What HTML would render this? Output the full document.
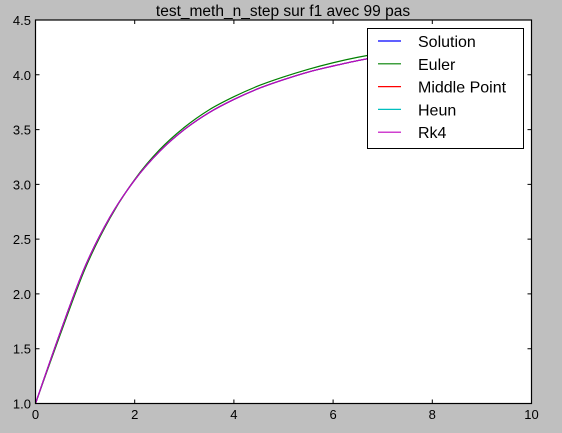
<!DOCTYPE html>
<html><head><meta charset="utf-8"><style>
html,body{margin:0;padding:0;background:#bfbfbf;}
svg{display:block;font-family:"Liberation Sans","DejaVu Sans",sans-serif;}
</style></head><body>
<svg id="chart" width="562" height="433">
<rect x="0" y="0" width="562" height="433" fill="#bfbfbf"/>
<rect x="35.5" y="20" width="496" height="383.5" fill="#fff"/>
<g id="series"></g>
<rect x="35.5" y="20" width="496" height="383.5" fill="none" stroke="#000" stroke-width="1.2"/>
<g id="ticks"></g>
<text x="283" y="16" text-anchor="middle" font-size="15.5">test_meth_n_step sur f1 avec 99 pas</text>
<g>
<rect x="367.5" y="28.5" width="156" height="120" fill="#fff" stroke="#000" stroke-width="1"/>
<g id="legend-items"></g>
</g>
</svg>
<script>
const xs=[0,0.5,1,1.5,2,2.5,3,3.5,4,4.5,5,5.5,6,6.5,7,7.5,8,8.5,9,9.5];
const solution=[1.0,1.65,2.25,2.70,3.04,3.30,3.50,3.655,3.775,3.875,3.955,4.025,4.08,4.13,4.17,4.20,4.225,4.245,4.26,4.275];
const euler=[1.0,1.63,2.23,2.69,3.045,3.315,3.52,3.68,3.80,3.90,3.98,4.05,4.11,4.16,4.20,4.23,4.255,4.275,4.29,4.305];
const middle=[1.0,1.65,2.25,2.70,3.04,3.30,3.50,3.655,3.775,3.875,3.955,4.025,4.08,4.13,4.17,4.20,4.225,4.245,4.26,4.275];
const heun=[1.0,1.65,2.25,2.70,3.04,3.30,3.50,3.655,3.775,3.875,3.955,4.025,4.08,4.13,4.17,4.20,4.225,4.245,4.26,4.275];
const rk4=[1.0,1.65,2.25,2.70,3.04,3.30,3.50,3.655,3.775,3.875,3.955,4.025,4.08,4.13,4.17,4.20,4.225,4.245,4.26,4.275];
const xTicks=[0,2,4,6,8,10];
const yTicks=["1.0","1.5","2.0","2.5","3.0","3.5","4.0","4.5"];
const seriesNames=["Solution","Euler","Middle Point","Heun","Rk4"];
const seriesColors=["#0000ff","#008000","#ff0000","#00bfbf","#bf00bf"];
const X0=35.5,X1=531.5,Y0=403.5,Y1=20;
function sx(v){return X0+(v-0)/(10-0)*(X1-X0);}
function sy(v){return Y0-(v-1)/(4.5-1)*(Y0-Y1);}
const NS="http://www.w3.org/2000/svg";
function pathFor(ys){
  const p=xs.map((x,i)=>[sx(x),sy(ys[i])]);
  let d="M"+p[0][0]+","+p[0][1];
  for(let i=0;i<p.length-1;i++){
    const a=p[Math.max(i-1,0)],b=p[i],c=p[i+1],e=p[Math.min(i+2,p.length-1)];
    const c1=[b[0]+(c[0]-a[0])/6,b[1]+(c[1]-a[1])/6];
    const c2=[c[0]-(e[0]-b[0])/6,c[1]-(e[1]-b[1])/6];
    d+=" C"+c1[0]+","+c1[1]+" "+c2[0]+","+c2[1]+" "+c[0]+","+c[1];
  }
  return d;
}
const all=[solution,euler,middle,heun,rk4];
const sg=document.getElementById("series");
all.forEach((ys,i)=>{
  const p=document.createElementNS(NS,"path");
  p.setAttribute("d",pathFor(ys));
  p.setAttribute("fill","none");
  p.setAttribute("stroke",seriesColors[i]);
  p.setAttribute("stroke-width","1.2");
  
  
  sg.appendChild(p);
});
const tg=document.getElementById("ticks");
xTicks.forEach(v=>{
  const x=sx(v);
  const l=document.createElementNS(NS,"path");
  l.setAttribute("d","M"+x+","+Y0+" v-4 M"+x+","+Y1+" v4");
  l.setAttribute("stroke","#000");
  
  
  tg.appendChild(l);
  const t=document.createElementNS(NS,"text");
  t.setAttribute("x",x);t.setAttribute("y",419);
  t.setAttribute("text-anchor","middle");t.setAttribute("font-size","13");
  t.textContent=v;
  
  
  tg.appendChild(t);
});
yTicks.forEach(s=>{
  const y=sy(parseFloat(s));
  const l=document.createElementNS(NS,"path");
  l.setAttribute("d","M"+X0+","+y+" h4 M"+X1+","+y+" h-4");
  l.setAttribute("stroke","#000");
  
  
  tg.appendChild(l);
  const t=document.createElementNS(NS,"text");
  t.setAttribute("x",31);t.setAttribute("y",y+5);
  t.setAttribute("text-anchor","end");t.setAttribute("font-size","13");
  t.textContent=s;
  
  
  tg.appendChild(t);
});
const lg=document.getElementById("legend-items");
seriesNames.forEach((n,i)=>{
  const y=41+i*22.8;
  const l=document.createElementNS(NS,"line");
  l.setAttribute("x1",378);l.setAttribute("x2",401);l.setAttribute("y1",y);l.setAttribute("y2",y);
  l.setAttribute("stroke",seriesColors[i]);l.setAttribute("stroke-width","1.2");
  
  
  lg.appendChild(l);
  const t=document.createElementNS(NS,"text");
  t.setAttribute("x",418);t.setAttribute("y",y+6);t.setAttribute("font-size","16");
  t.textContent=n;
  
  
  lg.appendChild(t);
});
</script>
</body></html>
